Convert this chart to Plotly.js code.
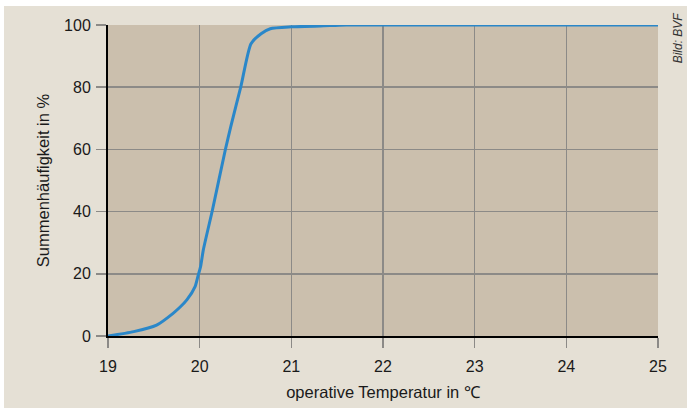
<!DOCTYPE html>
<html>
<head>
<meta charset="utf-8">
<script src="https://cdn.plot.ly/plotly-3.0.1.min.js"></script>
<style>
html,body{margin:0;padding:0;background:#ffffff;width:687px;height:408px;overflow:hidden;}
#chart{position:absolute;left:4px;top:6px;width:683px;height:402px;}
</style>
</head>
<body>
<div id="chart"></div>
<script>
const temperature = [19, 19.28, 19.53, 19.71, 19.79, 19.86, 19.95, 19.98, 20.01, 20.04, 20.14, 20.28, 20.34, 20.45, 20.56, 20.67, 20.77, 21.0, 21.42, 21.6, 22, 23, 24, 25];
const cumulative = [0, 1.4, 3.5, 7.3, 9.4, 11.6, 15.9, 19.1, 22.3, 27.7, 40.6, 59.9, 67.4, 80.3, 94, 97.2, 98.8, 99.4, 99.8, 100, 100, 100, 100, 100];
const xTicks = [19, 20, 21, 22, 23, 24, 25];
const yTicks = [0, 20, 40, 60, 80, 100];

const font = 'Liberation Sans, Arial, sans-serif';
const trace = {
  x: temperature, y: cumulative, type: 'scatter', mode: 'lines',
  line: {color: '#2a87c9', width: 3, shape: 'spline', smoothing: 0.6},
  cliponaxis: false, hoverinfo: 'skip'
};
const layout = {
  width: 683, height: 402,
  margin: {l: 104, r: 29, t: 19, b: 72},
  paper_bgcolor: '#e5e0d5',
  plot_bgcolor: '#cbbfad',
  showlegend: false,
  font: {family: font, size: 16, color: '#1a1a1a'},
  xaxis: {
    range: [19, 25], tickvals: xTicks, ticktext: xTicks.map(String),
    showgrid: true, gridcolor: '#8c8a87', gridwidth: 1.5,
    showline: true, linecolor: '#000000', linewidth: 2,
    ticks: 'outside', ticklen: 10, tickcolor: '#8c8a87', tickwidth: 1.5,
    ticklabelstandoff: 5,
    zeroline: false, fixedrange: true,
    tickfont: {family: font, size: 16, color: '#1a1a1a'},
    title: {text: 'operative Temperatur in \u2103', font: {family: font, size: 16.5, color: '#1a1a1a'}, standoff: 12}
  },
  yaxis: {
    range: [0, 100], tickvals: yTicks, ticktext: yTicks.map(String),
    showgrid: true, gridcolor: '#8c8a87', gridwidth: 1.5,
    showline: true, linecolor: '#000000', linewidth: 2,
    ticks: 'outside', ticklen: 10, tickcolor: '#8c8a87', tickwidth: 1.5,
    ticklabelstandoff: 2,
    zeroline: false, fixedrange: true,
    tickfont: {family: font, size: 16, color: '#1a1a1a'},
    title: {text: 'Summenhäufigkeit in %', font: {family: font, size: 16.5, color: '#1a1a1a'}, standoff: 10}
  },
  annotations: [{
    text: 'Bild: BVF', xref: 'paper', yref: 'paper', x: 1.038, y: 0.96,
    xanchor: 'center', yanchor: 'middle', textangle: -90, showarrow: false,
    font: {family: 'Liberation Sans Narrow, Liberation Sans, Arial, sans-serif', size: 12, color: '#333333', style: 'italic'}
  }]
};
Plotly.newPlot('chart', [trace], layout, {displayModeBar: false, staticPlot: true});
</script>
</body>
</html>
